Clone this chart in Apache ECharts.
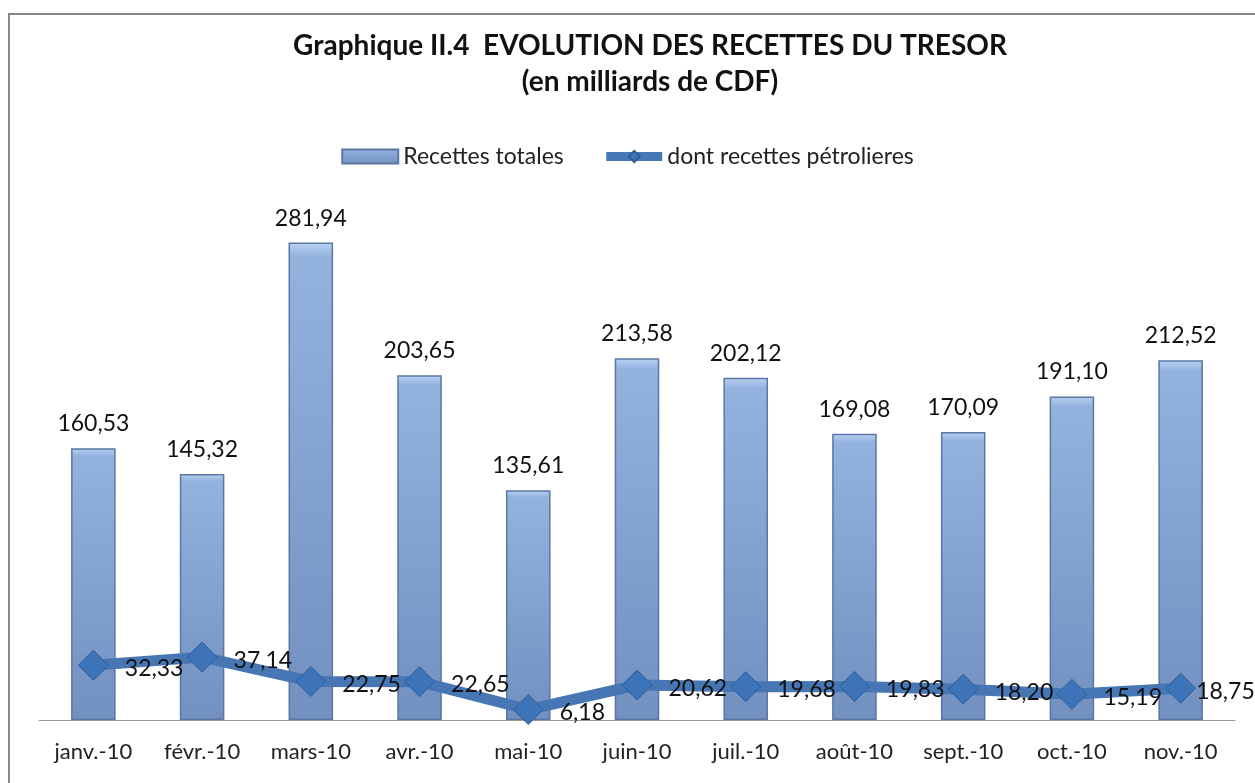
<!DOCTYPE html>
<html>
<head>
<meta charset="utf-8">
<script src="https://cdn.jsdelivr.net/npm/echarts@6/dist/echarts.min.js"></script>
<style>
html, body { margin: 0; padding: 0; background: #fff; }
#main { width: 1255px; height: 783px; }
</style>
</head>
<body>
<div id="main"></div>
<script>
var mois = ['janv.-10', 'févr.-10', 'mars-10', 'avr.-10', 'mai-10', 'juin-10', 'juil.-10', 'août-10', 'sept.-10', 'oct.-10', 'nov.-10'];
var recettesTotales = [160.53, 145.32, 281.94, 203.65, 135.61, 213.58, 202.12, 169.08, 170.09, 191.10, 212.52];
var recettesPetrolieres = [32.33, 37.14, 22.75, 22.65, 6.18, 20.62, 19.68, 19.83, 18.20, 15.19, 18.75];

function virgule(v) {
    return v.toFixed(2).replace('.', ',');
}

var font = 'Lato, "Open Sans", sans-serif';

// le dernier label est collé au losange (bord du graphique)
var petroleData = recettesPetrolieres.map(function (v, i) {
    if (i === recettesPetrolieres.length - 1) {
        return { value: v, label: { distance: 0 } };
    }
    return v;
});

var option = {
    animation: false,
    title: {
        text: 'Graphique II.4  EVOLUTION DES RECETTES DU TRESOR\n(en milliards de CDF)',
        left: 645,
        textAlign: 'center',
        top: 23,
        textStyle: {
            fontFamily: font,
            fontSize: 28,
            fontWeight: 'bold',
            color: '#111',
            lineHeight: 36
        }
    },
    legend: {
        top: 140,
        left: 'center',
        itemGap: 38,
        itemWidth: 56,
        itemHeight: 14,
        textStyle: { fontFamily: font, fontSize: 23, color: '#222' },
        data: [
            { name: 'Recettes totales', icon: 'rect' },
            { name: 'dont recettes pétrolieres', lineStyle: { width: 9 } }
        ]
    },
    grid: {
        left: 39,
        right: 20,
        top: 212,
        bottom: 63
    },
    xAxis: {
        type: 'category',
        data: mois,
        axisTick: { show: false },
        axisLine: { lineStyle: { color: '#999', width: 1 } },
        axisLabel: {
            interval: 0,
            fontFamily: font,
            fontSize: 22,
            color: '#222',
            margin: 21
        }
    },
    yAxis: {
        type: 'value',
        min: 0,
        max: 300,
        show: false,
        splitLine: { show: false }
    },
    series: [{
        name: 'Recettes totales',
        type: 'bar',
        data: recettesTotales,
        barWidth: '41%',
        itemStyle: {
            color: new echarts.graphic.LinearGradient(0, 0, 0, 1, [
                { offset: 0, color: '#b9d2f2' },
                { offset: 0.03, color: '#93b2de' },
                { offset: 1, color: '#7290c0' }
            ]),
            borderColor: '#5b77a3',
            borderWidth: 1.5
        },
        label: {
            show: true,
            position: 'top',
            distance: 13,
            fontFamily: font,
            fontSize: 23,
            color: '#111',
            formatter: function (p) { return virgule(p.value); }
        }
    }, {
        name: 'dont recettes pétrolieres',
        type: 'line',
        data: petroleData,
        symbol: 'diamond',
        symbolSize: 30,
        lineStyle: { color: '#4676b4', width: 11 },
        itemStyle: { color: '#3d74b8', borderColor: '#2e5d96', borderWidth: 1 },
        label: {
            show: true,
            position: 'right',
            distance: 16,
            offset: [0, 3],
            fontFamily: font,
            fontSize: 23,
            color: '#111',
            formatter: function (p) { return virgule(p.value); }
        },
        z: 3
    }],
    graphic: [{
        type: 'rect',
        shape: { x: 9, y: 14, width: 1300, height: 800 },
        style: { fill: 'none', stroke: '#888', lineWidth: 2 },
        silent: true
    }]
};

var chart = echarts.init(document.getElementById('main'));
chart.setOption(option);
</script>
</body>
</html>
